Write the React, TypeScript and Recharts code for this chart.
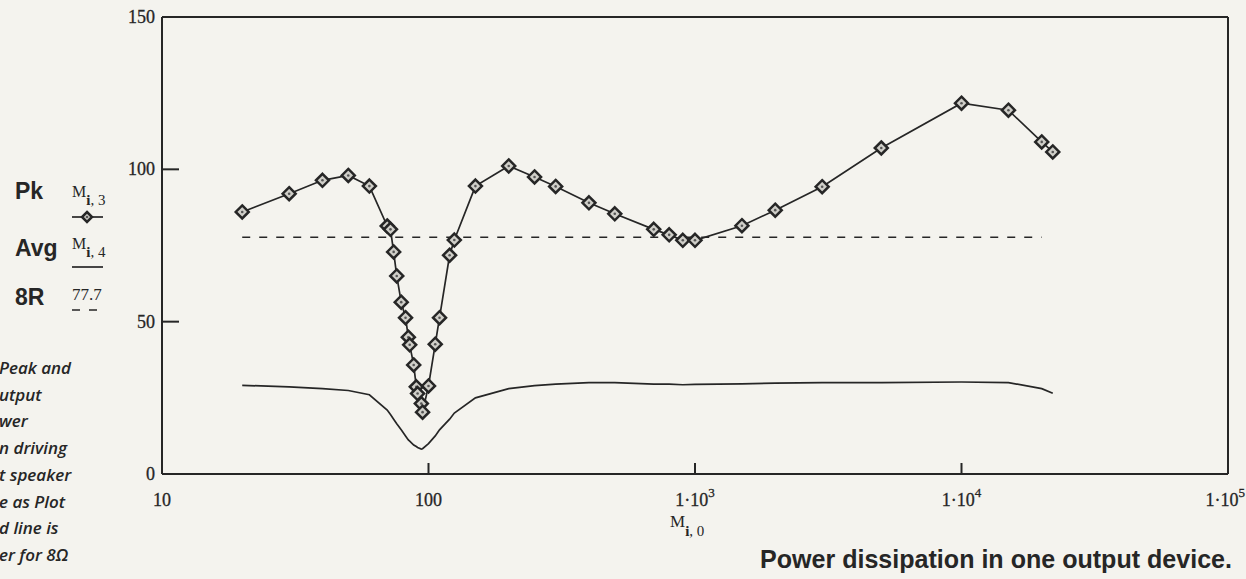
import React from "react";
import { LineChart, Line, XAxis, YAxis } from "recharts";

// Mathcad plot: M_i,0 = frequency, M_i,3 = peak power, M_i,4 = average power
const freqHz = [
  20, 30, 40, 50, 60, 70, 72, 74, 76, 79, 82, 84, 85, 88, 90, 91, 94, 95, 100, 106, 110,
  120, 125, 150, 200, 250, 300, 400, 500, 700, 800, 900, 1000, 1500, 2000, 3000, 5000,
  10000, 15000, 20000, 22000,
];
const peakW = [
  86, 92, 96.4, 98, 94.5, 81.4, 80.3, 72.9, 65, 56.4, 51.3, 44.9, 42.4, 35.8, 28.6, 26.4,
  23.1, 20.3, 28.9, 42.6, 51.3, 71.8, 76.8, 94.5, 101.1, 97.5, 94.4, 89, 85.4, 80.3, 78.5,
  76.7, 76.7, 81.5, 86.6, 94.3, 107, 121.7, 119.4, 109, 105.7,
];
const avgW = [
  29.1, 28.6, 28, 27.4, 26, 21, 19.5, 18, 16.5, 14.5, 12.5, 11.2, 10.8, 9.5, 9, 8.7, 8.2,
  8.3, 10, 12.5, 14.5, 18, 20, 25, 28, 29, 29.5, 30, 30, 29.5, 29.5, 29.3, 29.4, 29.6, 29.8,
  30, 30, 30.2, 30, 28, 26.5,
];
// 8 ohm resistive load, 77.7 W
const r8Freq = [20, 20000];
const r8Watts = [77.7, 77.7];

const xTicks = [10, 100, 1000, 10000, 100000];
const yTicks = [0, 50, 100, 150];
const innerYTicks = [50, 100];
const noteLines = ["Peak and", "utput", "wer", "n driving", "t speaker", "e as Plot", "d line is", "er for 8Ω"];

const rows = freqHz.map((f, i) => ({ f, pk: peakW[i], avg: avgW[i] }));
const r8Rows = r8Freq.map((f, i) => ({ f, r8: r8Watts[i] }));

const ink = "#262626";
const serif = "'Liberation Serif', 'DejaVu Serif', serif";
const sans = "'Liberation Sans', Arial, sans-serif";

function Diamond({ cx, cy, s = 6.5 }: any) {
  if (cx == null || cy == null) return null;
  return (
    <g>
      <path
        d={`M${cx},${cy - s} L${cx + s},${cy} L${cx},${cy + s} L${cx - s},${cy} Z`}
        fill="#cfcec8"
        stroke={ink}
        strokeWidth={2.5}
      />
      <circle cx={cx} cy={cy} r={1.3} fill="#555" />
    </g>
  );
}

function XTick(props: any) {
  const { x, y, payload } = props;
  const v = payload.value;
  const exp = Math.round(Math.log10(v));
  const last = v >= 100000;
  return (
    <g>
      {v > 10 && !last && <line x1={x} y1={y} x2={x} y2={y - 11} stroke={ink} strokeWidth={2} />}
      <text
        x={last ? 1245 : x}
        y={y + 32}
        textAnchor={last ? "end" : "middle"}
        fontFamily={serif}
        fontSize={18}
        fill={ink}
        stroke={ink}
        strokeWidth={0.3}
      >
        {v <= 100 ? (
          String(v)
        ) : (
          <>
            <tspan>1·10</tspan>
            <tspan dy={-9} fontSize={13}>
              {exp}
            </tspan>
          </>
        )}
      </text>
    </g>
  );
}

function YTick(props: any) {
  const { x, y, payload } = props;
  const v = payload.value;
  return (
    <g>
      {innerYTicks.includes(v) && <line x1={x} y1={y} x2={x + 17} y2={y} stroke={ink} strokeWidth={2} />}
      <text x={x - 7} y={y + 6} textAnchor="end" fontFamily={serif} fontSize={18} fill={ink} stroke={ink} strokeWidth={0.3}>
        {v}
      </text>
    </g>
  );
}

function RTick(props: any) {
  const { x, y } = props;
  return <line x1={x} y1={y} x2={x - 17} y2={y} stroke={ink} strokeWidth={2} />;
}

export default function App() {
  return (
    <div style={{ position: "absolute", left: 0, top: 0, width: 1246, height: 579, background: "#f4f3ee", overflow: "hidden" }}>
      <LineChart width={1246} height={579} data={rows} margin={{ top: 0, right: 0, bottom: 0, left: 0 }}>
        <XAxis
          dataKey="f"
          type="number"
          scale="log"
          domain={[10, 100000]}
          ticks={xTicks}
          interval={0}
          allowDataOverflow
          height={105}
          tickSize={0}
          tickMargin={0}
          tickLine={false}
          axisLine={{ stroke: ink, strokeWidth: 2 }}
          tick={(p: any) => <XTick {...p} />}
        />
        <XAxis
          xAxisId="top"
          orientation="top"
          dataKey="f"
          type="number"
          scale="log"
          domain={[10, 100000]}
          allowDataOverflow
          height={17}
          tick={false}
          tickLine={false}
          axisLine={{ stroke: ink, strokeWidth: 2 }}
        />
        <YAxis
          type="number"
          domain={[0, 150]}
          ticks={yTicks}
          interval={0}
          width={162}
          tickSize={0}
          tickMargin={0}
          tickLine={false}
          axisLine={{ stroke: ink, strokeWidth: 2 }}
          tick={(p: any) => <YTick {...p} />}
        />
        <YAxis
          yAxisId="right"
          orientation="right"
          type="number"
          domain={[0, 150]}
          ticks={innerYTicks}
          interval={0}
          width={18}
          tickSize={0}
          tickMargin={0}
          tickLine={false}
          axisLine={{ stroke: ink, strokeWidth: 2 }}
          tick={(p: any) => <RTick {...p} />}
        />
        <Line data={r8Rows} dataKey="r8" stroke={ink} strokeWidth={1.7} strokeDasharray="8 9" dot={false} isAnimationActive={false} />
        <Line dataKey="avg" type="linear" stroke={ink} strokeWidth={1.7} dot={false} isAnimationActive={false} />
        <Line
          dataKey="pk"
          type="linear"
          stroke={ink}
          strokeWidth={1.7}
          dot={(p: any) => <Diamond key={`pk-${p.index}`} cx={p.cx} cy={p.cy} />}
          isAnimationActive={false}
        />
      </LineChart>
      <svg width={1246} height={579} style={{ position: "absolute", left: 0, top: 0, pointerEvents: "none" }}>
        {/* legend block */}
        <text x={15} y={199} fontFamily={sans} fontWeight="bold" fontSize={23} fill={ink}>Pk</text>
        <text x={72} y={197} fontFamily={serif} fontSize={16} fill={ink}>
          M<tspan dy={8} fontSize={15} fontWeight="bold">i</tspan><tspan fontSize={15}>, 3</tspan>
        </text>
        <line x1={72} y1={217} x2={103} y2={217} stroke={ink} strokeWidth={1.7} />
        <Diamond cx={87} cy={217} s={5} />

        <text x={15} y={256} fontFamily={sans} fontWeight="bold" fontSize={23} fill={ink}>Avg</text>
        <text x={72} y={249} fontFamily={serif} fontSize={16} fill={ink}>
          M<tspan dy={8} fontSize={15} fontWeight="bold">i</tspan><tspan fontSize={15}>, 4</tspan>
        </text>
        <line x1={72} y1={267} x2={103} y2={267} stroke={ink} strokeWidth={1.7} />

        <text x={15} y={305} fontFamily={sans} fontWeight="bold" fontSize={23} fill={ink}>8R</text>
        <text x={72} y={300} fontFamily={serif} fontSize={17} fill={ink}>77.7</text>
        <line x1={72} y1={310} x2={100} y2={310} stroke={ink} strokeWidth={1.7} strokeDasharray="8 9" />

        {noteLines.map((t, i) => (
          <text
            key={t}
            x={-1}
            y={374 + i * 26.7}
            fontFamily="'Open Sans', sans-serif"
            fontStyle="italic"
            fontWeight={600}
            fontSize={17}
            fill={ink}
          >
            {t}
          </text>
        ))}

        {/* x axis variable */}
        <text x={670} y={527} fontFamily={serif} fontSize={17} fill={ink}>
          M<tspan dy={9} fontSize={15} fontWeight="bold">i</tspan><tspan fontSize={15}>, 0</tspan>
        </text>

        <text
          x={760}
          y={568}
          textLength={472}
          lengthAdjust="spacingAndGlyphs"
          fontFamily={sans}
          fontWeight="bold"
          fontSize={25}
          fill={ink}
        >
          Power dissipation in one output device.
        </text>
      </svg>
    </div>
  );
}
